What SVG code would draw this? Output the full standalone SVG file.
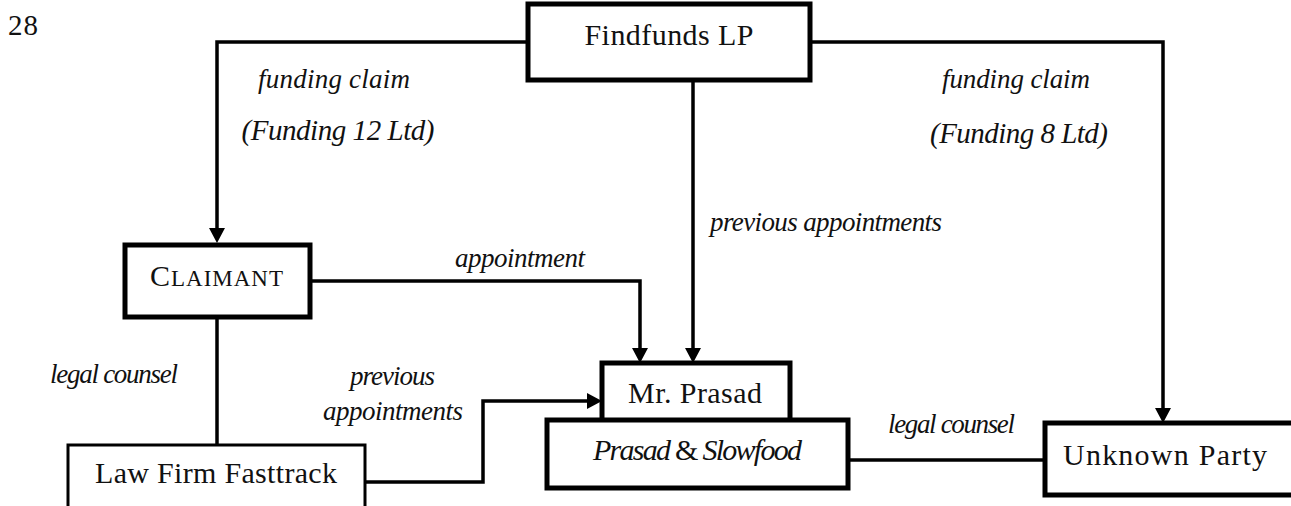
<svg xmlns="http://www.w3.org/2000/svg" width="1291" height="506" viewBox="0 0 1291 506">
<style>
  text { font-family: "Liberation Serif", "Times New Roman", serif; fill: #111; }
  .n { font-size: 30px; }
  .lbl { font-size: 27px; font-style: italic; }
  .par { font-size: 29px; }
  .box { fill: #fff; stroke: #000; stroke-width: 5; }
  .thin { fill: #fff; stroke: #000; stroke-width: 3; }
  .con { fill: none; stroke: #000; stroke-width: 3.5; }
</style>
<defs>
  <marker id="arr" markerUnits="userSpaceOnUse" markerWidth="16" markerHeight="16" refX="0" refY="8" orient="auto">
    <path d="M0,0 L15,8 L0,16 Z" fill="#000"/>
  </marker>
</defs>
<rect width="1291" height="506" fill="#fff"/>
<text x="8" y="35" font-size="29" textLength="30">28</text>

<g id="connectors">
  <path class="con" d="M528,42 H217 V228" marker-end="url(#arr)"/>
  <path class="con" d="M810,42 H1163 V408" marker-end="url(#arr)"/>
  <path class="con" d="M693,80 V348" marker-end="url(#arr)"/>
  <path class="con" d="M310,281 H640 V348" marker-end="url(#arr)"/>
  <path class="con" d="M217,317 V445"/>
  <path class="con" d="M365,482 H483 V401 H587" marker-end="url(#arr)"/>
  <path class="con" d="M848,460 H1045"/>
</g>

<g id="edge-labels">
  <text class="lbl" x="334" y="88" text-anchor="middle" textLength="152">funding claim</text>
  <text class="lbl par" x="338" y="140" text-anchor="middle" textLength="193">(Funding 12 Ltd)</text>
  <text class="lbl" x="1016" y="88" text-anchor="middle" textLength="148">funding claim</text>
  <text class="lbl par" x="1019" y="143" text-anchor="middle" textLength="178">(Funding 8 Ltd)</text>
  <text class="lbl" x="710" y="231" textLength="232">previous appointments</text>
  <text class="lbl" x="455" y="267" textLength="130">appointment</text>
  <text class="lbl" x="50" y="383" textLength="128">legal counsel</text>
  <text class="lbl" x="350" y="385" textLength="85">previous</text>
  <text class="lbl" x="323" y="420" textLength="140">appointments</text>
  <text class="lbl" x="888" y="433" textLength="127">legal counsel</text>
</g>

<g id="findfunds">
  <rect class="box" x="528" y="4" width="282" height="76"/>
  <text class="n" x="669" y="45" text-anchor="middle" textLength="169">Findfunds LP</text>
</g>
<g id="claimant">
  <rect class="box" x="125" y="245" width="185" height="72"/>
  <text class="n" x="150" y="286" textLength="133">C<tspan font-size="23">LAIMANT</tspan></text>
</g>
<g id="lawfirm">
  <rect class="thin" x="68" y="445" width="297" height="80"/>
  <text class="n" x="95" y="483" textLength="242">Law Firm Fasttrack</text>
</g>
<g id="mrprasad">
  <rect class="box" x="602" y="363" width="188" height="70"/>
  <text class="n" x="628" y="403" textLength="134">Mr. Prasad</text>
</g>
<g id="prasadslowfood">
  <rect class="box" x="547" y="420" width="301" height="68"/>
  <text class="n" x="593" y="460" textLength="209"><tspan font-style="italic">Prasad</tspan> &amp; <tspan font-style="italic">Slowfood</tspan></text>
</g>
<g id="unknown">
  <rect class="box" x="1045" y="423" width="260" height="72"/>
  <text class="n" x="1063" y="465" font-size="31" textLength="204">Unknown Party</text>
</g>
</svg>
